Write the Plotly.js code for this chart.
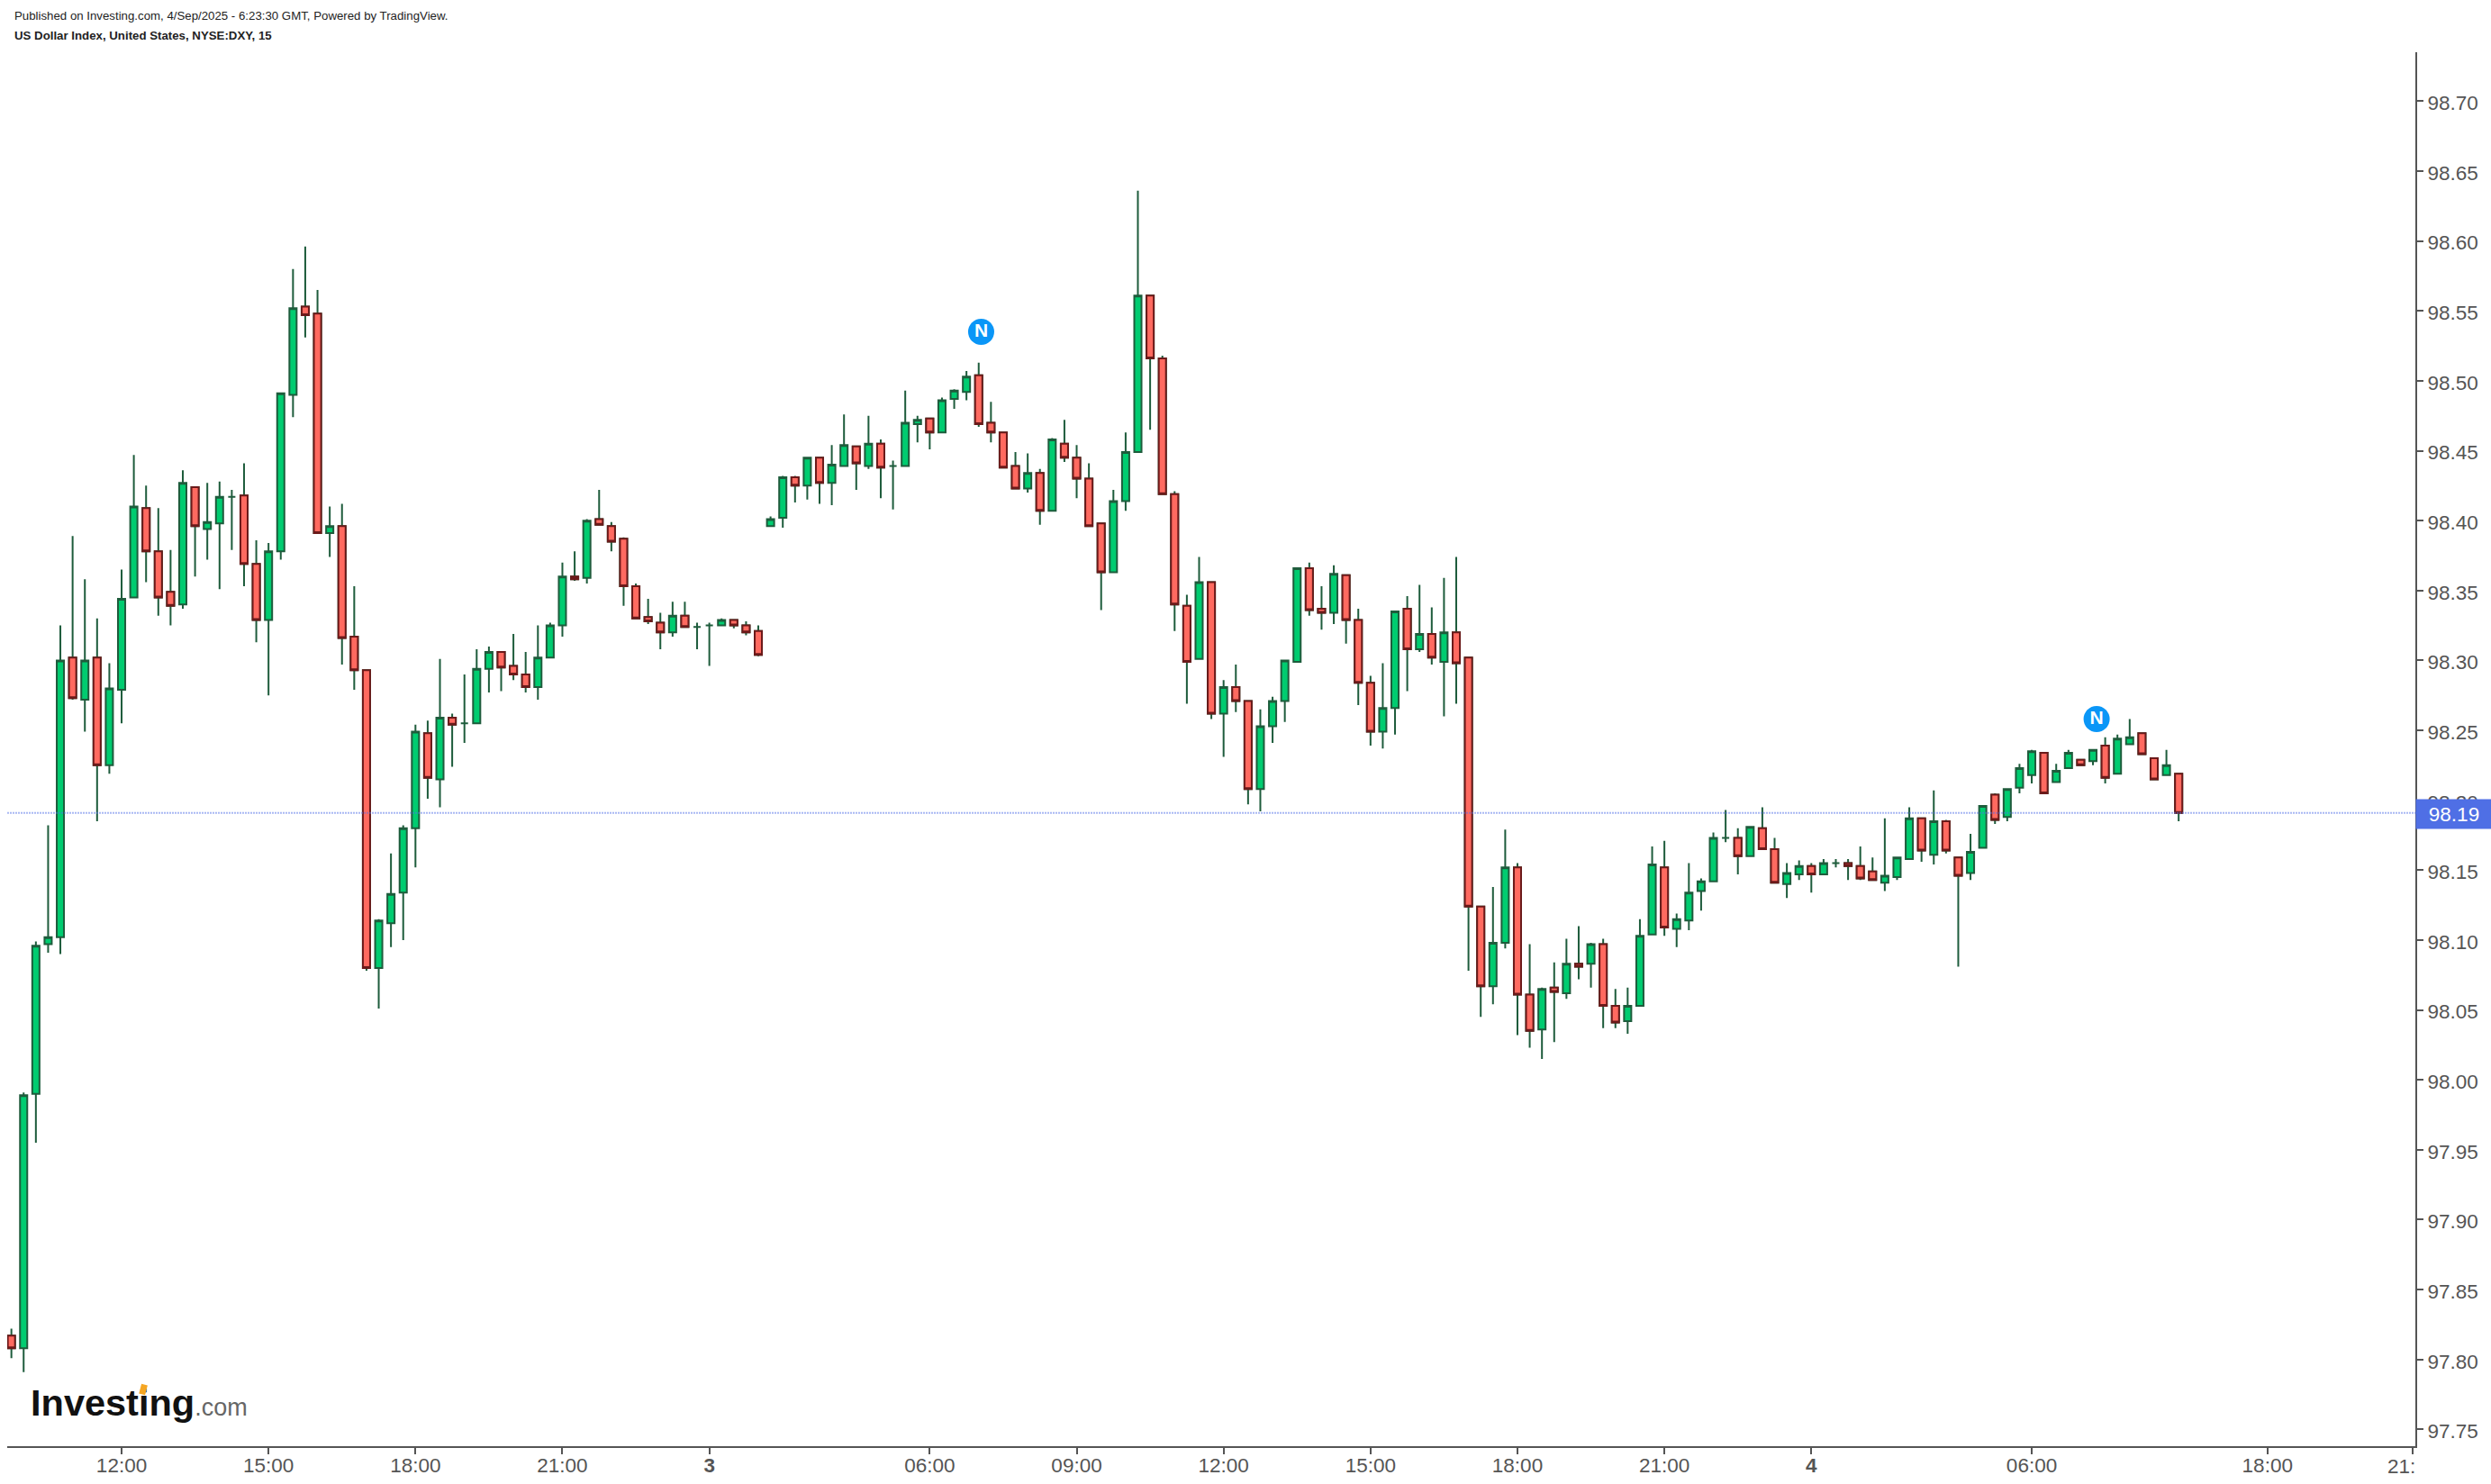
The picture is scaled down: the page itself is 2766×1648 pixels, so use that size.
<!DOCTYPE html>
<html>
<head>
<meta charset="utf-8">
<script src="https://cdn.plot.ly/plotly-3.0.1.min.js"></script>
<style>html,body{margin:0;padding:0;background:#fff;overflow:hidden}#chart{width:2766px;height:1648px}</style>
</head>
<body>
<div id="chart"></div>
<script>
const opens = [
97.817,97.808,97.990,98.097,98.102,98.302,98.272,98.302,98.225,98.279,
98.345,98.409,98.378,98.349,98.340,98.424,98.394,98.398,98.417,98.418,
98.369,98.329,98.378,98.490,98.553,98.548,98.391,98.396,98.317,98.293,
98.080,98.112,98.134,98.180,98.248,98.215,98.259,98.255,98.255,98.294,
98.306,98.296,98.290,98.281,98.302,98.325,98.360,98.359,98.401,98.396,
98.387,98.353,98.331,98.327,98.320,98.332,98.324,98.325,98.325,98.329,
98.325,98.321,98.396,98.402,98.431,98.425,98.445,98.427,98.439,98.453,
98.439,98.455,98.439,98.439,98.469,98.473,98.463,98.487,98.492,98.504,
98.470,98.463,98.439,98.423,98.434,98.407,98.455,98.445,98.430,98.398,
98.363,98.414,98.449,98.561,98.516,98.419,98.339,98.301,98.356,98.262,
98.281,98.271,98.208,98.253,98.271,98.299,98.366,98.337,98.334,98.361,
98.329,98.284,98.249,98.266,98.337,98.308,98.319,98.299,98.320,98.302,
98.124,98.067,98.098,98.152,98.061,98.036,98.066,98.062,98.083,98.083,
98.097,98.053,98.042,98.053,98.104,98.152,98.108,98.114,98.135,98.142,
98.173,98.173,98.160,98.180,98.165,98.140,98.147,98.153,98.147,98.155,
98.155,98.153,98.149,98.141,98.145,98.158,98.187,98.161,98.185,98.159,
98.148,98.166,98.204,98.188,98.209,98.218,98.234,98.213,98.223,98.229,
98.228,98.239,98.219,98.240,98.248,98.230,98.218,98.219];
const highs = [
97.822,97.991,98.099,98.182,98.325,98.389,98.358,98.330,98.298,98.365,
98.447,98.425,98.409,98.379,98.436,98.424,98.427,98.428,98.422,98.441,
98.386,98.384,98.491,98.580,98.596,98.565,98.410,98.412,98.353,98.293,
98.115,98.162,98.182,98.254,98.257,98.301,98.262,98.290,98.308,98.310,
98.306,98.319,98.306,98.325,98.327,98.370,98.378,98.401,98.422,98.399,
98.388,98.355,98.344,98.334,98.342,98.342,98.327,98.327,98.330,98.329,
98.328,98.325,98.403,98.432,98.432,98.445,98.445,98.454,98.476,98.453,
98.475,98.458,98.443,98.493,98.475,98.473,98.488,98.494,98.507,98.513,
98.485,98.463,98.449,98.448,98.437,98.459,98.472,98.454,98.441,98.398,
98.422,98.463,98.636,98.561,98.518,98.421,98.347,98.374,98.356,98.286,
98.297,98.271,98.265,98.274,98.300,98.366,98.370,98.353,98.368,98.361,
98.337,98.289,98.298,98.335,98.346,98.354,98.338,98.359,98.374,98.302,
98.124,98.138,98.179,98.155,98.097,98.066,98.084,98.101,98.110,98.098,
98.101,98.065,98.066,98.115,98.167,98.171,98.119,98.155,98.144,98.177,
98.193,98.180,98.181,98.195,98.173,98.155,98.157,98.155,98.158,98.158,
98.158,98.167,98.159,98.187,98.159,98.195,98.187,98.207,98.186,98.159,
98.176,98.196,98.205,98.208,98.226,98.236,98.234,98.226,98.236,98.229,
98.236,98.245,98.247,98.258,98.248,98.230,98.236,98.219];
const lows = [
97.801,97.791,97.955,98.091,98.090,98.272,98.249,98.185,98.219,98.255,
98.345,98.356,98.332,98.325,98.337,98.360,98.372,98.351,98.379,98.353,
98.313,98.275,98.372,98.474,98.531,98.391,98.374,98.297,98.279,98.078,
98.051,98.095,98.100,98.152,98.201,98.195,98.224,98.241,98.255,98.277,
98.278,98.286,98.277,98.272,98.302,98.317,98.357,98.355,98.397,98.378,
98.339,98.330,98.326,98.308,98.317,98.324,98.308,98.296,98.325,98.323,
98.318,98.303,98.396,98.395,98.413,98.415,98.412,98.411,98.439,98.422,
98.437,98.416,98.408,98.439,98.456,98.451,98.463,98.480,98.486,98.467,
98.456,98.438,98.423,98.420,98.397,98.407,98.442,98.416,98.396,98.336,
98.363,98.407,98.449,98.465,98.419,98.321,98.269,98.301,98.258,98.231,
98.263,98.197,98.192,98.241,98.256,98.299,98.332,98.322,98.326,98.312,
98.268,98.239,98.237,98.247,98.278,98.306,98.297,98.260,98.269,98.078,
98.045,98.054,98.094,98.032,98.023,98.015,98.027,98.058,98.072,98.066,
98.037,98.037,98.033,98.053,98.104,98.103,98.095,98.107,98.121,98.142,
98.170,98.147,98.160,98.165,98.141,98.130,98.143,98.134,98.147,98.152,
98.143,98.143,98.143,98.135,98.143,98.158,98.156,98.154,98.162,98.081,
98.143,98.166,98.183,98.185,98.205,98.212,98.205,98.213,98.223,98.225,
98.225,98.212,98.219,98.240,98.233,98.215,98.218,98.185];
const closes = [
97.808,97.989,98.096,98.102,98.300,98.273,98.300,98.225,98.280,98.344,
98.410,98.378,98.345,98.339,98.427,98.396,98.399,98.417,98.417,98.369,
98.329,98.378,98.491,98.552,98.547,98.391,98.396,98.316,98.293,98.080,
98.114,98.133,98.180,98.249,98.216,98.259,98.254,98.255,98.294,98.306,
98.295,98.290,98.281,98.302,98.325,98.360,98.358,98.400,98.397,98.385,
98.353,98.330,98.328,98.320,98.332,98.324,98.324,98.325,98.329,98.325,
98.320,98.304,98.401,98.431,98.425,98.445,98.427,98.440,98.454,98.441,
98.455,98.438,98.439,98.470,98.472,98.463,98.486,98.493,98.503,98.469,
98.463,98.438,98.423,98.434,98.407,98.458,98.445,98.430,98.396,98.363,
98.414,98.449,98.561,98.516,98.419,98.340,98.299,98.356,98.262,98.281,
98.271,98.208,98.253,98.271,98.300,98.366,98.336,98.334,98.362,98.329,
98.284,98.249,98.266,98.335,98.308,98.319,98.302,98.320,98.298,98.124,
98.067,98.098,98.152,98.061,98.035,98.065,98.063,98.083,98.081,98.097,
98.053,98.041,98.053,98.103,98.154,98.109,98.115,98.134,98.142,98.173,
98.173,98.160,98.181,98.165,98.141,98.148,98.153,98.147,98.155,98.155,
98.153,98.144,98.143,98.146,98.159,98.187,98.164,98.185,98.164,98.146,
98.163,98.196,98.186,98.208,98.223,98.235,98.205,98.221,98.234,98.225,
98.236,98.216,98.244,98.245,98.233,98.215,98.225,98.191];

const tickBars = [9,21,33,45,57,75,87,99,111,123,135,147,165,184.25,196.1];
const tickLabels = ['12:00','15:00','18:00','21:00','<b>3</b>','06:00','09:00','12:00','15:00','18:00','21:00','<b>4</b>','06:00','18:00',''];
const clippedLabel = '21:';
const newsBars = [79.2,170.3];
const newsPrices = [98.535,98.258];
const lastPrice = 98.191;
const lastLabel = '98.19';
const publishedText = 'Published on Investing.com, 4/Sep/2025 - 6:23:30 GMT, Powered by TradingView.';
const symbolText = 'US Dollar Index, United States, NYSE:DXY, 15';

const FONT = '"Liberation Sans", Arial, sans-serif';
const GREEN = '#00CC70', GREEN_LINE = '#1E5C3C', RED = '#FF6A60', RED_LINE = '#6B1A1A', AXIS = '#555555';

const bars = opens.map((_, i) => i);
const redIdx = bars.filter(i => opens[i] > closes[i]);

const sideStyle = (fill, line) => ({fillcolor: fill, line: {color: line, width: 2}});

const allCandles = {
  type: 'candlestick', x: bars, open: opens, high: highs, low: lows, close: closes,
  increasing: sideStyle(GREEN, GREEN_LINE), decreasing: sideStyle(RED, GREEN_LINE),
  whiskerwidth: 0, hoverinfo: 'skip', showlegend: false
};
const redBodies = {
  type: 'candlestick', x: redIdx.map(i => bars[i]),
  open: redIdx.map(i => opens[i]), close: redIdx.map(i => closes[i]),
  high: redIdx.map(i => opens[i]), low: redIdx.map(i => closes[i]),
  increasing: sideStyle(RED, RED_LINE), decreasing: sideStyle(RED, RED_LINE),
  whiskerwidth: 0, hoverinfo: 'skip', showlegend: false
};
const news = {
  type: 'scatter', mode: 'markers+text', x: newsBars, y: newsPrices,
  marker: {size: 29, color: '#0A96F7', line: {width: 0}},
  text: ['N','N'], textposition: 'middle center',
  textfont: {family: FONT, size: 21, color: '#ffffff', weight: 'bold'},
  hoverinfo: 'skip', showlegend: false, cliponaxis: false
};

const layout = {
  width: 2766, height: 1648, paper_bgcolor: '#fff', plot_bgcolor: '#fff',
  margin: {l: 8, r: 84.3, t: 58, b: 42.3}, showlegend: false,
  font: {family: FONT, color: AXIS, size: 22},
  boxmode: 'overlay', boxgap: 0.41, boxgroupgap: 0,
  xaxis: {
    type: 'linear', range: [-0.342, 196.33], showgrid: false, zeroline: false,
    showline: true, linecolor: AXIS, linewidth: 2,
    ticks: 'outside', ticklen: 7, tickwidth: 2, tickcolor: AXIS,
    tickmode: 'array', tickvals: tickBars, ticktext: tickLabels, ticklabelstandoff: -7,
    tickfont: {family: FONT, size: 22.5, color: AXIS}, rangeslider: {visible: false}, anchor: 'y'
  },
  yaxis: {
    side: 'right', range: [97.738, 98.735], showgrid: false, zeroline: false,
    showline: true, linecolor: AXIS, linewidth: 2,
    ticks: 'outside', ticklen: 7, tickwidth: 2, tickcolor: AXIS,
    tick0: 97.75, dtick: 0.05, tickformat: '.2f', ticklabelshift: 2,
    tickfont: {family: FONT, size: 22.5, color: AXIS}, anchor: 'x'
  },
  shapes: [
    {type: 'line', xref: 'paper', x0: 0, x1: 1.002, yref: 'y', y0: lastPrice, y1: lastPrice, layer: 'above',
     line: {color: 'rgba(84,112,232,0.5)', width: 2, dash: '2px,1px'}}
  ],
  annotations: [
    {xref: 'paper', yref: 'y', x: 1, y: lastPrice, yshift: -1, xanchor: 'left', yanchor: 'middle', showarrow: false,
     text: lastLabel, bgcolor: '#4F6FE5', width: 84, height: 32, align: 'center', borderpad: 0,
     font: {family: FONT, size: 22.5, color: '#ffffff'}},
    {xref: 'x', yref: 'paper', x: 196.1, y: 0, yshift: -10, xanchor: 'right', xshift: 3, yanchor: 'top', showarrow: false,
     text: clippedLabel, font: {family: FONT, size: 22.5, color: AXIS}, borderpad: 0, borderwidth: 0},
    {xref: 'paper', yref: 'paper', x: (15 - 8) / 2673.7, y: (1648 - 42.3 - 17.5) / 1547.7, xanchor: 'left', yanchor: 'middle', showarrow: false,
     text: publishedText, font: {family: FONT, size: 13.25, color: '#222222'}, borderpad: 0},
    {xref: 'paper', yref: 'paper', x: (15 - 8) / 2673.7, y: (1648 - 42.3 - 39.5) / 1547.7, xanchor: 'left', yanchor: 'middle', showarrow: false,
     text: '<b>' + symbolText + '</b>', font: {family: FONT, size: 13.25, color: '#222222'}, borderpad: 0},
    {xref: 'paper', yref: 'paper', x: (33 - 8) / 2673.7, y: 48 / 1547.7, xanchor: 'left', yanchor: 'middle', showarrow: false,
     text: '<b>Investing</b><span style="color:#666;font-size:27px">.com</span>', font: {family: FONT, size: 41.5, color: '#111111'}, borderpad: 0},
    {xref: 'paper', yref: 'paper', x: (159 - 8) / 2673.7, y: (1605.7 - 1543) / 1547.7, xanchor: 'center', yanchor: 'middle', showarrow: false,
     text: ' ', bgcolor: '#F5A623', width: 6, height: 10, textangle: 15, font: {size: 6}, borderpad: 0}
  ]
};

Plotly.newPlot('chart', [allCandles, redBodies, news], layout, {staticPlot: true, displayModeBar: false});
</script>
</body>
</html>
